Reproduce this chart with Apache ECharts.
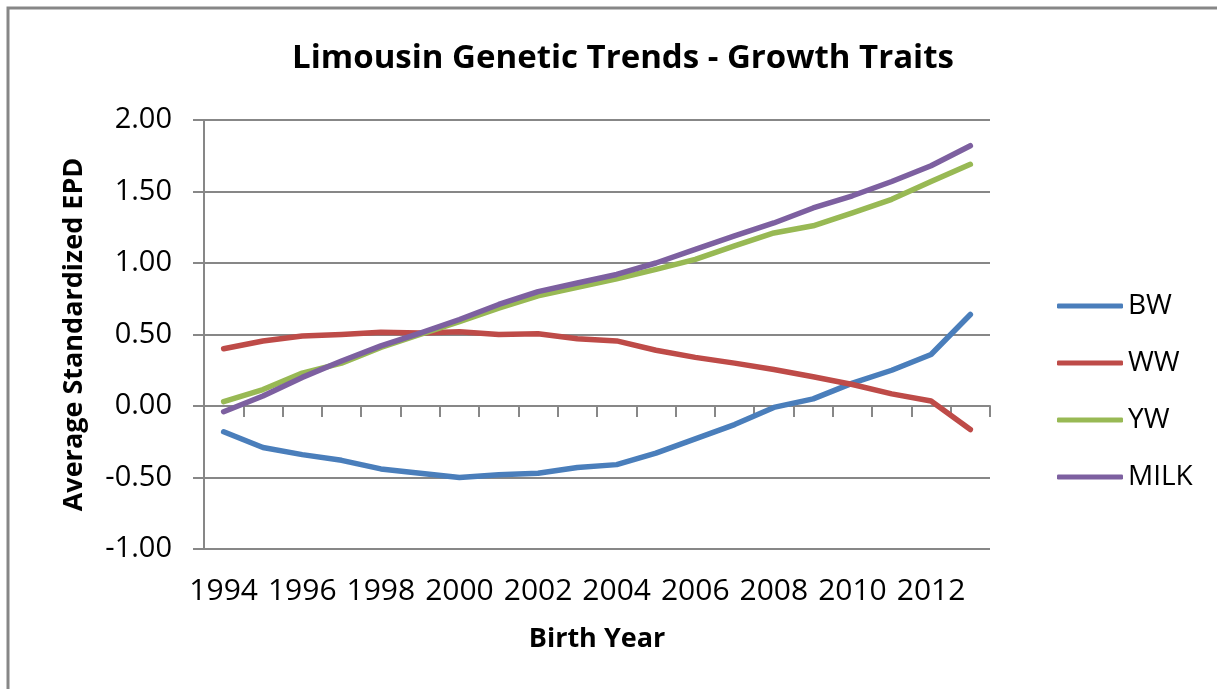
<!DOCTYPE html>
<html>
<head>
<meta charset="utf-8">
<title>Limousin Genetic Trends - Growth Traits</title>
<script src="https://cdn.jsdelivr.net/npm/echarts@6/dist/echarts.min.js"></script>
<style>
  html, body { margin: 0; padding: 0; background: #fff; }
  #main { width: 1217px; height: 689px; }
</style>
</head>
<body>
<div id="main"></div>
<script>
// birth years on the x axis
var years = ["1994", "1995", "1996", "1997", "1998", "1999", "2000", "2001", "2002", "2003",
             "2004", "2005", "2006", "2007", "2008", "2009", "2010", "2011", "2012", "2013"];

// average standardized EPD
var bw   = [-0.18, -0.29, -0.34, -0.38, -0.44, -0.47, -0.50, -0.48, -0.47, -0.43,
            -0.41, -0.33, -0.23, -0.13, -0.01, 0.05, 0.16, 0.25, 0.36, 0.64];
var ww   = [0.40, 0.455, 0.49, 0.50, 0.515, 0.51, 0.52, 0.50, 0.505, 0.47,
            0.455, 0.39, 0.34, 0.30, 0.255, 0.205, 0.15, 0.085, 0.035, -0.165];
var yw   = [0.03, 0.115, 0.23, 0.30, 0.41, 0.50, 0.59, 0.685, 0.77, 0.83,
            0.89, 0.955, 1.025, 1.12, 1.21, 1.26, 1.35, 1.445, 1.57, 1.69];
var milk = [-0.04, 0.07, 0.20, 0.315, 0.42, 0.51, 0.605, 0.71, 0.80, 0.86,
            0.92, 1.00, 1.095, 1.19, 1.28, 1.385, 1.47, 1.57, 1.68, 1.82];

var seriesNames = ["BW", "WW", "YW", "MILK"];
var seriesColors = ["#4a7ebb", "#be4b48", "#98b954", "#7d60a0"];
var seriesData = [bw, ww, yw, milk];

var font = "Open Sans";
var chart = echarts.init(document.getElementById("main"));

var series = seriesNames.map(function (name, i) {
  return {
    name: name,
    type: "line",
    data: seriesData[i],
    symbol: "none",
    smooth: false,
    lineStyle: { width: 5.5, color: seriesColors[i], cap: "round", join: "round" },
    itemStyle: { color: seriesColors[i] }
  };
});

var option = {
  animation: false,
  backgroundColor: "#fff",
  color: seriesColors,
  title: {
    text: "Limousin Genetic Trends - Growth Traits",
    left: 618,
    top: 37,
    textAlign: "center",
    textStyle: { fontFamily: font, fontWeight: "bold", fontSize: 33, color: "#000" }
  },
  legend: {
    orient: "vertical",
    left: 1052,
    top: 286,
    itemWidth: 66,
    itemHeight: 5,
    itemGap: 27,
    icon: "roundRect",
    data: seriesNames,
    textStyle: { fontFamily: font, fontSize: 28, color: "#000", lineHeight: 30 }
  },
  grid: { left: 204, right: 227, top: 120, bottom: 140, containLabel: false },
  xAxis: {
    type: "category",
    data: years,
    boundaryGap: true,
    name: "Birth Year",
    nameLocation: "middle",
    nameGap: 77,
    nameTextStyle: { fontFamily: font, fontWeight: "bold", fontSize: 27, color: "#000" },
    axisLine: { lineStyle: { color: "#878787", width: 2 } },
    axisTick: { show: true, interval: 0, length: 11, alignWithLabel: false, lineStyle: { color: "#878787", width: 2 } },
    axisLabel: { interval: 1, margin: 27, fontFamily: font, fontSize: 30, color: "#000" },
    splitLine: { show: false }
  },
  yAxis: {
    type: "value",
    min: -1,
    max: 2,
    interval: 0.5,
    name: "Average Standardized EPD",
    nameLocation: "middle",
    nameGap: 116,
    nameTextStyle: { fontFamily: font, fontWeight: "bold", fontSize: 27, color: "#000" },
    axisLine: { show: true, lineStyle: { color: "#878787", width: 2 } },
    axisTick: { show: true, length: 11, lineStyle: { color: "#878787", width: 2 } },
    axisLabel: {
      margin: 32,
      fontFamily: font,
      fontSize: 29,
      color: "#000",
      formatter: function (v) { return v.toFixed(2); }
    },
    splitLine: { show: true, lineStyle: { color: "#878787", width: 2 } }
  },
  graphic: [{
    type: "rect",
    shape: { x: 8, y: 8, width: 1400, height: 900 },
    style: { fill: "none", stroke: "#878787", lineWidth: 3 },
    silent: true
  }],
  series: series
};

chart.setOption(option);
</script>
</body>
</html>
